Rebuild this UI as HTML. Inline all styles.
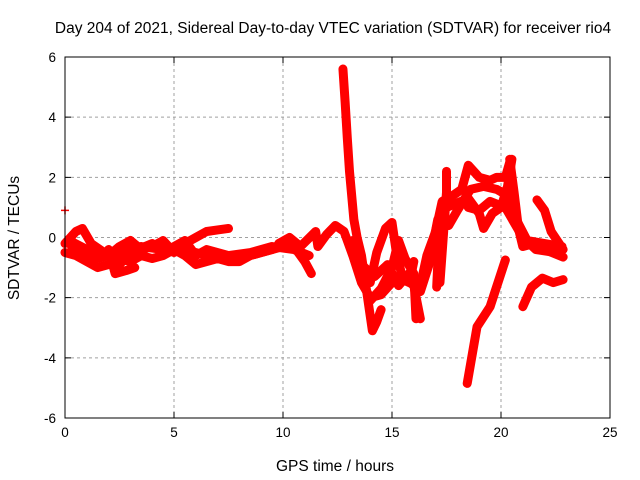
<!DOCTYPE html>
<html><head><meta charset="utf-8"><style>
body{margin:0;background:#fff}
svg{display:block;font-family:"Liberation Sans",sans-serif}
</style></head><body>
<svg id="chart" width="640" height="480" viewBox="0 0 640 480">
<rect width="640" height="480" fill="#fff"/>
<text x="333" y="33" font-size="15.5" text-anchor="middle">Day 204 of 2021, Sidereal Day-to-day VTEC variation (SDTVAR) for receiver rio4</text>
<text x="335" y="471" font-size="15.5" text-anchor="middle">GPS time / hours</text>
<text transform="translate(19,238) rotate(-90)" font-size="15.5" text-anchor="middle">SDTVAR / TECUs</text>
<g id="grid"></g>
<g id="ticks"></g>
<g id="series"></g>
<rect x="65" y="57" width="545" height="361" fill="none" stroke="#000" stroke-width="1"/>
</svg>
<script>
const xTicks=[0,5,10,15,20,25];
const yTicks=[-6,-4,-2,0,2,4,6];
const track1=[[0,-0.2],[0.5,0.2],[0.8,0.3],[1.2,-0.2],[2,-0.6],[2.5,-0.3],[3,-0.1],[3.5,-0.4],[4,-0.3],[4.5,-0.1],[5,-0.5],[5.5,-0.2],[6,0],[6.5,0.2],[7,0.25],[7.5,0.3]];
const track2=[[0,-0.5],[0.5,-0.6],[1,-0.8],[1.5,-1.0],[2,-0.9],[2.5,-0.7],[3,-0.8],[3.5,-0.6],[4,-0.7],[4.5,-0.6],[5,-0.4],[5.5,-0.6],[6,-0.9],[6.5,-0.8],[7,-0.7],[7.5,-0.8],[8,-0.8],[8.5,-0.6],[9,-0.5],[9.5,-0.4],[10,-0.2],[10.5,-0.3],[11,-0.8],[11.3,-1.2]];
const track3=[[0.2,-0.1],[1,-0.4],[2,-0.6],[2.5,-0.9],[3,-0.5],[4,-0.2],[4.5,-0.5],[5,-0.3],[5.5,-0.1],[6,-0.6],[6.5,-0.4],[7,-0.5],[8,-0.7],[9,-0.5],[10,-0.3],[10.3,-0.1],[10.8,-0.5]];
const track4=[[2,-0.4],[2.3,-1.2],[2.8,-1.1],[3.2,-1.0]];
const track5=[[0,0.9]];
const track6=[[9.8,-0.2],[10.3,0],[10.8,-0.3],[11.5,0.2],[11.6,-0.3],[12,0.1],[12.4,0.4],[12.8,0.2],[13.2,-0.6],[13.6,-1.5],[14,-2.0],[14.5,-1.9],[15,-1.5],[15.5,-1.3],[16,-1.6],[16.3,-2.7]];
const track7=[[12.75,5.6],[12.85,4.5],[12.95,3.3],[13.05,2.2],[13.15,1.4],[13.25,0.6],[13.4,0],[13.6,-0.6],[13.8,-1.6],[14.0,-2.6],[14.1,-3.1],[14.3,-2.8],[14.5,-2.4]];
const track8=[[13.5,-1.0],[14,-1.5],[14.3,-0.5],[14.7,0.3],[15,0.5],[15.2,-0.5],[15.5,-1.4],[15.8,-1.5],[16,-0.8]];
const track9=[[14.0,-2.1],[14.5,-1.7],[15,-1.0],[15.3,-0.1],[15.6,-0.7],[16,-1.2],[16.1,-2.7]];
const track10=[[16.3,-1.6],[16.6,-0.6],[17,0.2],[17.3,1.2],[17.8,1.4],[18.2,1.6],[18.5,2.4],[19,2.0],[19.5,1.9],[19.8,2.0],[20.2,2.0],[20.4,2.5]];
const track11=[[20.4,2.6],[20.6,1.5],[20.8,0.3],[21.0,-0.3],[21.5,-0.2],[22,-0.4],[22.85,-0.65]];
const track12=[[21.65,1.25],[22,0.9],[22.3,0.2],[22.85,-0.4]];
const track13=[[21.0,-2.3],[21.4,-1.65],[21.9,-1.35],[22.4,-1.5],[22.85,-1.4]];
const track14=[[18.45,-4.85],[18.9,-2.97],[19.5,-2.3],[20.2,-0.75]];
const track15=[[17.05,-1.65],[17.2,0.7],[17.5,1.0],[18.5,1.3],[19,0.8],[19.2,0.3],[19.6,0.8],[20,1.0],[20.3,1.7],[20.5,2.6]];
const track16=[[17.2,-1.5],[17.3,-0.5],[17.4,0.5],[17.5,1.5],[17.5,2.2]];
const track17=[[18.5,1.0],[19,0.9],[19.5,1.2],[20.2,1.0],[20.6,0.5],[21.0,0.0],[21.6,-0.4],[22.5,-0.5]];
const track18=[[0.3,-0.3],[1,-0.6],[1.5,-0.7],[2.5,-0.5],[3.5,-0.3],[4.5,-0.4],[5.5,-0.4],[6.5,-0.6],[7.5,-0.6],[8.5,-0.5],[9.5,-0.3],[10.5,-0.4],[11.2,-0.6]];
const track19=[[13.2,-0.1],[13.6,-0.9],[14.2,-1.3],[14.8,-0.9],[15.3,-1.6],[15.9,-1.1],[16.3,-1.8],[16.7,-0.9],[17.1,0.6]];
const track20=[[17.6,0.4],[18,0.9],[18.6,1.6],[19.2,1.7],[19.8,1.6],[20.3,1.4],[20.7,0.6],[21.2,-0.1],[22,-0.2],[22.8,-0.3]];
const tracks=[track1,track2,track3,track4,track5,track6,track7,track8,track9,track10,track11,track12,track13,track14,track15,track16,track17,track18,track19,track20];

const X0=65,X1=610,Y0=418,Y1=57,xMin=0,xMax=25,yMin=-6,yMax=6;
function sx(v){return X0+(v-xMin)/(xMax-xMin)*(X1-X0);}
function sy(v){return Y0-(v-yMin)/(yMax-yMin)*(Y0-Y1);}
const NS="http://www.w3.org/2000/svg";
function mk(tag,attrs,parent){const e=document.createElementNS(NS,tag);for(const k in attrs)e.setAttribute(k,attrs[k]);parent.appendChild(e);return e;}
const grid=document.getElementById('grid'),ticks=document.getElementById('ticks'),series=document.getElementById('series');
xTicks.forEach(t=>{
  const x=sx(t);
  if(t>xMin&&t<xMax){const g=mk('line',{x1:x,x2:x,y1:Y1,y2:Y0,stroke:'#a0a0a0','stroke-dasharray':'3,3'},grid);
  
  }
  const tk=mk('path',{d:`M${x},${Y0}v-6M${x},${Y1}v6`,stroke:'#000'},ticks);
  
  
  const lb=mk('text',{x:x,y:Y0+19,'font-size':13.5,'text-anchor':'middle'},ticks);
  lb.textContent=t;
  
  
});
yTicks.forEach(t=>{
  const y=sy(t);
  if(t>yMin&&t<yMax){const g=mk('line',{x1:X0,x2:X1,y1:y,y2:y,stroke:'#a0a0a0','stroke-dasharray':'3,3'},grid);
  
  }
  const tk=mk('path',{d:`M${X0},${y}h6M${X1},${y}h-6`,stroke:'#000'},ticks);
  
  
  const lb=mk('text',{x:X0-9,y:y+5,'font-size':13.5,'text-anchor':'end'},ticks);
  lb.textContent=t;
  
  
});
tracks.forEach(tr=>{
  const pts=tr.map(p=>sx(p[0])+','+sy(p[1])).join(' ');
  const pl=mk('polyline',{points:pts,fill:'none',stroke:'#ff0000','stroke-width':9,'stroke-linejoin':'round','stroke-linecap':'round'},series);
  
  
  tr.forEach(p=>{
    const x=sx(p[0]),y=sy(p[1]);
    const m=mk('path',{d:`M${x-4},${y}h8M${x},${y-4}v8`,stroke:'#ff0000','stroke-width':1.5},series);
    
    
  });
});
</script>
</body></html>
